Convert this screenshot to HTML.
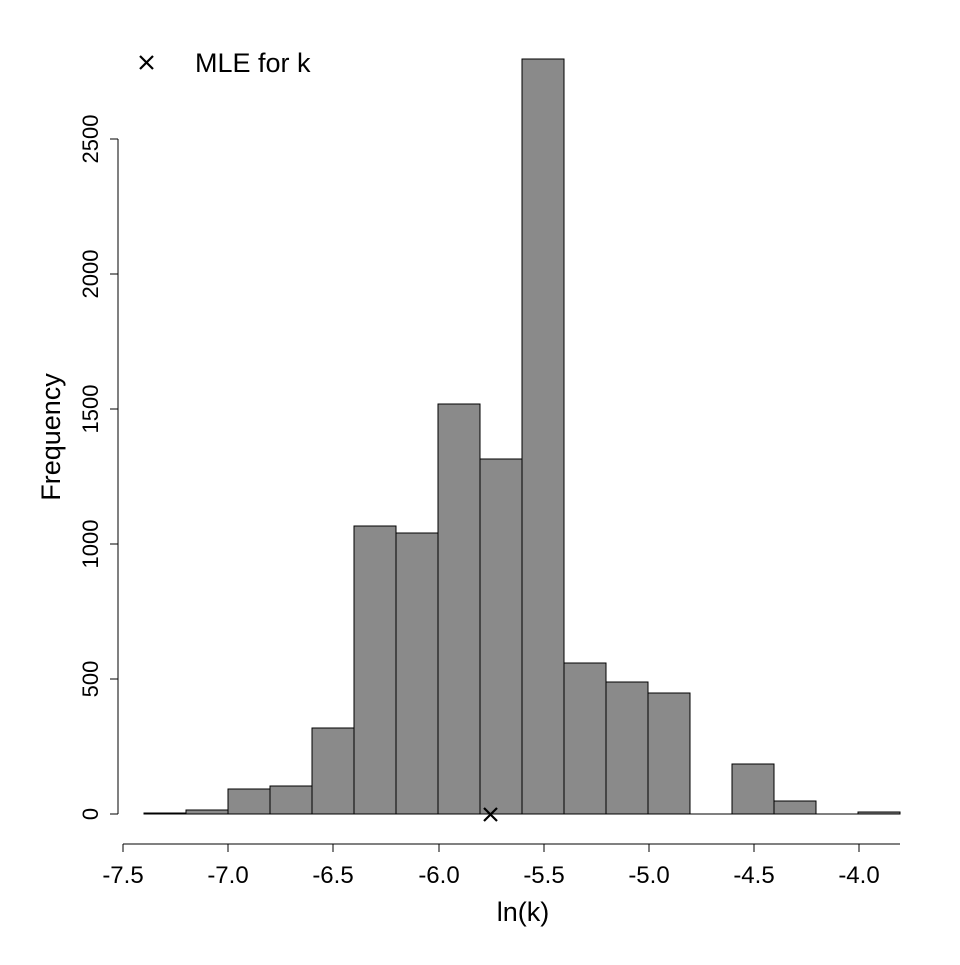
<!DOCTYPE html>
<html><head><style>body{margin:0;background:#fff}</style></head><body>
<svg width="960" height="960" xmlns="http://www.w3.org/2000/svg" font-family="Liberation Sans, sans-serif">
<rect width="960" height="960" fill="#fff"/>
<g fill="#8a8a8a" stroke="#000" stroke-width="1">
<rect x="144" y="813" width="42" height="1"/>
<rect x="186" y="810" width="42" height="4"/>
<rect x="228" y="789" width="42" height="25"/>
<rect x="270" y="786" width="42" height="28"/>
<rect x="312" y="728" width="42" height="86"/>
<rect x="354" y="526" width="42" height="288"/>
<rect x="396" y="533" width="42" height="281"/>
<rect x="438" y="404" width="42" height="410"/>
<rect x="480" y="459" width="42" height="355"/>
<rect x="522" y="59" width="42" height="755"/>
<rect x="564" y="663" width="42" height="151"/>
<rect x="606" y="682" width="42" height="132"/>
<rect x="648" y="693" width="42" height="121"/>
<line x1="690" y1="814" x2="732" y2="814"/>
<rect x="732" y="764" width="42" height="50"/>
<rect x="774" y="801" width="42" height="13"/>
<line x1="816" y1="814" x2="858" y2="814"/>
<rect x="858" y="812" width="42" height="2"/>
</g>
<g stroke="#000" stroke-width="1" fill="none">
<line x1="123" y1="844" x2="900" y2="844"/>
<line x1="123" y1="844" x2="123" y2="852"/><line x1="228" y1="844" x2="228" y2="852"/>
<line x1="333" y1="844" x2="333" y2="852"/><line x1="439" y1="844" x2="439" y2="852"/>
<line x1="544" y1="844" x2="544" y2="852"/><line x1="649" y1="844" x2="649" y2="852"/>
<line x1="754" y1="844" x2="754" y2="852"/><line x1="859" y1="844" x2="859" y2="852"/>
<line x1="118" y1="139" x2="118" y2="814"/>
<line x1="110" y1="814" x2="118" y2="814"/><line x1="110" y1="679" x2="118" y2="679"/>
<line x1="110" y1="544" x2="118" y2="544"/><line x1="110" y1="409" x2="118" y2="409"/>
<line x1="110" y1="274" x2="118" y2="274"/><line x1="110" y1="139" x2="118" y2="139"/>
</g>
<g stroke="#000" stroke-width="2.2">
<line x1="484" y1="808" x2="497" y2="821"/><line x1="484" y1="821" x2="497" y2="808"/>
<line x1="140" y1="56" x2="153" y2="69"/><line x1="140" y1="69" x2="153" y2="56"/>
</g>
<g font-size="24" fill="#000" text-anchor="middle">
<text x="123" y="883">-7.5</text><text x="228" y="883">-7.0</text><text x="333" y="883">-6.5</text>
<text x="439" y="883">-6.0</text><text x="544" y="883">-5.5</text><text x="649" y="883">-5.0</text>
<text x="754" y="883">-4.5</text><text x="859" y="883">-4.0</text>
</g>
<g font-size="22" fill="#000" text-anchor="middle">
<text transform="translate(98,814) rotate(-90)">0</text>
<text transform="translate(98,679) rotate(-90)">500</text>
<text transform="translate(98,544) rotate(-90)">1000</text>
<text transform="translate(98,409) rotate(-90)">1500</text>
<text transform="translate(98,274) rotate(-90)">2000</text>
<text transform="translate(98,139) rotate(-90)">2500</text>
</g>
<g font-size="27" fill="#000" text-anchor="middle">
<text x="523" y="921">ln(k)</text>
<text transform="translate(60,437) rotate(-90)">Frequency</text>
<text x="195" y="72" text-anchor="start">MLE for k</text>
</g>
</svg>
</body></html>
